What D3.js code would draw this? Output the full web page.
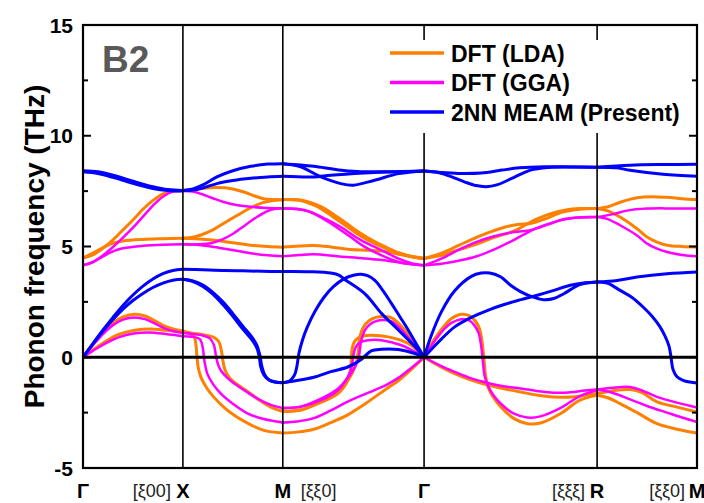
<!DOCTYPE html>
<html>
<head>
<meta charset="utf-8">
<script src="https://cdn.jsdelivr.net/npm/d3@7/dist/d3.min.js"></script>
<style>
  html, body { margin: 0; padding: 0; background: #fff; }
  svg { display: block; font-family: "Liberation Sans", Arial, Helvetica, sans-serif; }
</style>
</head>
<body>
<svg id="chart" width="704" height="503"></svg>
<script>
// High-symmetry points along the B2 (CsCl) Brillouin-zone path, in units of 2π/a
const symLabels = ["Γ", "X", "M", "Γ", "R", "M"];
const symK = [0, 0.5, 1.0, 1.7071, 2.5731, 3.0731];
// Direction labels: [text, index of the point it sits beside, side]
const dirLabels = [["[ξ00]", 1, "before"], ["[ξξ0]", 2, "after"], ["[ξξξ]", 4, "before"], ["[ξξ0]", 5, "before"]];
const yTicks = [-5, 0, 5, 10, 15];
const yMinorTicks = [-2.5, 2.5, 7.5, 12.5];
const seriesNames = ["DFT (LDA)", "DFT (GGA)", "2NN MEAM (Present)"];

// Each band: [segment index, [[fraction along segment, frequency THz], ...]]
const ldaBands = [
  [0, [[0,4.48],[0.1,4.62],[0.2,4.92],[0.3,5.3],[0.4,5.75],[0.5,6.2],[0.6,6.68],[0.7,7.08],[0.8,7.38],[0.9,7.5],[1,7.53]]],
  [0, [[0,4.48],[0.1,4.7],[0.2,4.95],[0.3,5.15],[0.4,5.25],[0.6,5.32],[0.8,5.35],[1,5.37]]],
  [0, [[0,0],[0.1,0.6],[0.2,1.12],[0.3,1.55],[0.4,1.82],[0.52,1.94],[0.62,1.86],[0.73,1.62],[0.83,1.38],[0.93,1.24],[1,1.19]]],
  [0, [[0,0],[0.12,0.4],[0.25,0.78],[0.37,1.05],[0.52,1.22],[0.67,1.27],[0.83,1.22],[1,1.14]]],
  [1, [[0,7.53],[0.15,7.6],[0.34,7.66],[0.5,7.6],[0.61,7.46],[0.72,7.28],[0.81,7.16],[1,7.1]]],
  [1, [[0,5.37],[0.1,5.42],[0.18,5.52],[0.3,5.75],[0.41,6.05],[0.55,6.42],[0.68,6.75],[0.8,6.98],[0.9,7.08],[1,7.12]]],
  [1, [[0,5.37],[0.2,5.33],[0.34,5.27],[0.5,5.17],[0.68,5.06],[0.85,5.0],[1,4.97]]],
  [1, [[0,1.19],[0.08,1.1],[0.2,1.02],[0.31,0.9],[0.36,0.7],[0.385,0.3],[0.4,-0.15],[0.42,-0.55],[0.47,-0.95],[0.55,-1.25],[0.64,-1.52],[0.76,-1.92],[0.88,-2.25],[1,-2.44]]],
  [1, [[0,1.14],[0.06,1.08],[0.11,0.95],[0.13,0.6],[0.14,0.05],[0.155,-0.5],[0.18,-0.9],[0.24,-1.4],[0.31,-1.8],[0.42,-2.3],[0.54,-2.7],[0.68,-3.05],[0.81,-3.3],[1,-3.42]]],
  [2, [[0,7.12],[0.126,7.08],[0.2,6.92],[0.27,6.71],[0.36,6.32],[0.46,5.88],[0.55,5.48],[0.65,5.14],[0.74,4.88],[0.82,4.69],[0.91,4.54],[1,4.46]]],
  [2, [[0,7.12],[0.126,7.1],[0.2,6.98],[0.27,6.8],[0.36,6.45],[0.46,6.0],[0.55,5.6],[0.65,5.22],[0.74,4.94],[0.82,4.72],[0.91,4.55],[1,4.46]]],
  [2, [[0,4.98],[0.12,5.02],[0.22,5.05],[0.34,4.98],[0.46,4.88],[0.6,4.83],[0.72,4.78],[0.85,4.62],[1,4.46]]],
  [2, [[0,-2.44],[0.126,-2.38],[0.22,-2.17],[0.39,-1.64],[0.46,-1.04],[0.478,-0.6],[0.485,-0.1],[0.49,0.35],[0.505,0.68],[0.53,0.86],[0.57,0.96],[0.626,0.99],[0.746,0.92],[0.889,0.62],[1,0]]],
  [2, [[0,-2.44],[0.126,-2.38],[0.22,-2.15],[0.39,-1.55],[0.47,-0.95],[0.51,-0.45],[0.526,-0.1],[0.535,0.3],[0.545,0.9],[0.57,1.35],[0.61,1.65],[0.66,1.8],[0.705,1.84],[0.77,1.78],[0.84,1.4],[0.92,0.75],[1,0]]],
  [2, [[0,-3.42],[0.1,-3.38],[0.22,-3.25],[0.34,-2.95],[0.46,-2.6],[0.56,-2.2],[0.65,-1.8],[0.74,-1.4],[0.82,-1.05],[0.91,-0.55],[1,0]]],
  [3, [[0,4.46],[0.1,4.7],[0.2,5.05],[0.3,5.4],[0.38,5.65],[0.48,5.9],[0.55,6.0],[0.62,6.05],[0.7,6.25],[0.8,6.55],[0.9,6.68],[1,6.71]]],
  [3, [[0,4.46],[0.1,4.6],[0.2,4.85],[0.3,5.1],[0.4,5.4],[0.52,5.7],[0.64,6.2],[0.72,6.45],[0.82,6.65],[0.9,6.71],[1,6.71]]],
  [3, [[0,0],[0.04,0.58],[0.082,1.07],[0.12,1.45],[0.158,1.75],[0.215,1.94],[0.26,1.88],[0.295,1.65],[0.32,1.3],[0.335,0.7],[0.345,0],[0.355,-0.8],[0.37,-1.35],[0.4,-1.8],[0.444,-2.24],[0.52,-2.77],[0.597,-3.0],[0.673,-2.97],[0.787,-2.55],[0.901,-1.94],[1,-1.72]]],
  [3, [[0,0],[0.1,-0.45],[0.177,-0.74],[0.26,-1.0],[0.368,-1.26],[0.45,-1.4],[0.558,-1.57],[0.65,-1.7],[0.749,-1.79],[0.85,-1.8],[0.93,-1.72],[1,-1.64]]],
  [4, [[0,6.71],[0.1,6.78],[0.23,7.0],[0.4,7.2],[0.55,7.25],[0.7,7.22],[0.85,7.16],[1,7.12]]],
  [4, [[0,6.71],[0.1,6.62],[0.23,6.33],[0.4,5.8],[0.5,5.43],[0.6,5.2],[0.7,5.06],[0.85,5.0],[1,4.98]]],
  [4, [[0,-1.64],[0.15,-1.52],[0.33,-1.46],[0.45,-1.6],[0.6,-2.02],[0.8,-2.25],[1,-2.47]]],
  [4, [[0,-1.72],[0.12,-1.85],[0.23,-2.09],[0.4,-2.5],[0.6,-3.0],[0.8,-3.25],[1,-3.42]]]
];

const ggaBands = [
  [0, [[0,4.15],[0.1,4.3],[0.2,4.6],[0.3,4.98],[0.4,5.4],[0.5,5.85],[0.6,6.35],[0.7,6.85],[0.8,7.25],[0.9,7.48],[1,7.52]]],
  [0, [[0,4.15],[0.1,4.3],[0.2,4.55],[0.3,4.78],[0.4,4.92],[0.6,5.03],[0.8,5.08],[1,5.1]]],
  [0, [[0,0],[0.1,0.55],[0.2,1.05],[0.3,1.45],[0.4,1.7],[0.52,1.8],[0.62,1.72],[0.73,1.5],[0.83,1.28],[0.93,1.15],[1,1.1]]],
  [0, [[0,0],[0.12,0.35],[0.25,0.68],[0.37,0.92],[0.52,1.08],[0.67,1.12],[0.83,1.05],[1,0.95]]],
  [1, [[0,7.52],[0.1,7.48],[0.18,7.38],[0.3,7.18],[0.41,7.01],[0.55,6.86],[0.68,6.79],[0.85,6.74],[1,6.73]]],
  [1, [[0,5.1],[0.15,5.1],[0.28,5.15],[0.4,5.33],[0.51,5.6],[0.63,5.98],[0.74,6.33],[0.88,6.66],[1,6.73]]],
  [1, [[0,5.1],[0.2,5.05],[0.35,4.95],[0.51,4.83],[0.7,4.68],[0.85,4.6],[1,4.56]]],
  [1, [[0,1.1],[0.1,1.05],[0.2,0.98],[0.27,0.85],[0.31,0.55],[0.33,0.1],[0.35,-0.3],[0.38,-0.6],[0.45,-0.95],[0.55,-1.3],[0.64,-1.57],[0.76,-1.9],[0.88,-2.15],[1,-2.29]]],
  [1, [[0,0.95],[0.1,0.92],[0.17,0.82],[0.2,0.4],[0.21,0.0],[0.225,-0.4],[0.245,-0.75],[0.3,-1.2],[0.38,-1.64],[0.5,-2.1],[0.64,-2.52],[0.8,-2.78],[1,-2.95]]],
  [2, [[0,6.71],[0.1,6.68],[0.174,6.6],[0.26,6.35],[0.34,6.04],[0.46,5.52],[0.58,4.98],[0.7,4.6],[0.82,4.3],[0.91,4.2],[1,4.15]]],
  [2, [[0,6.71],[0.1,6.7],[0.2,6.55],[0.3,6.25],[0.41,5.88],[0.55,5.3],[0.7,4.83],[0.82,4.45],[0.91,4.25],[1,4.15]]],
  [2, [[0,4.56],[0.12,4.62],[0.22,4.65],[0.4,4.55],[0.58,4.46],[0.75,4.35],[0.88,4.22],[1,4.15]]],
  [2, [[0,-2.29],[0.126,-2.24],[0.27,-1.94],[0.39,-1.49],[0.46,-0.89],[0.485,-0.5],[0.496,-0.1],[0.505,0.25],[0.52,0.5],[0.55,0.68],[0.603,0.77],[0.698,0.77],[0.84,0.54],[1,0]]],
  [2, [[0,-2.29],[0.126,-2.23],[0.22,-2.02],[0.39,-1.42],[0.47,-0.85],[0.51,-0.45],[0.535,-0.1],[0.545,0.3],[0.555,0.75],[0.58,1.2],[0.62,1.5],[0.67,1.65],[0.71,1.68],[0.77,1.62],[0.83,1.3],[0.91,0.72],[1,0]]],
  [2, [[0,-2.95],[0.1,-2.9],[0.22,-2.75],[0.34,-2.4],[0.46,-2.0],[0.56,-1.72],[0.65,-1.48],[0.74,-1.22],[0.82,-0.92],[0.91,-0.48],[1,0]]],
  [3, [[0,4.15],[0.1,4.45],[0.2,4.85],[0.3,5.2],[0.4,5.45],[0.52,5.65],[0.62,5.75],[0.72,6.0],[0.8,6.22],[0.9,6.32],[1,6.33]]],
  [3, [[0,4.15],[0.1,4.22],[0.2,4.36],[0.3,4.55],[0.4,4.85],[0.52,5.3],[0.64,5.8],[0.74,6.08],[0.85,6.27],[1,6.33]]],
  [3, [[0,0],[0.04,0.5],[0.082,0.95],[0.12,1.3],[0.158,1.55],[0.215,1.72],[0.26,1.66],[0.29,1.45],[0.315,1.1],[0.33,0.5],[0.34,-0.2],[0.35,-0.85],[0.37,-1.3],[0.4,-1.7],[0.444,-2.1],[0.52,-2.55],[0.597,-2.72],[0.673,-2.67],[0.787,-2.3],[0.901,-1.75],[1,-1.49]]],
  [3, [[0,0],[0.1,-0.4],[0.177,-0.66],[0.26,-0.92],[0.368,-1.16],[0.45,-1.3],[0.558,-1.41],[0.65,-1.52],[0.749,-1.6],[0.85,-1.58],[0.93,-1.5],[1,-1.46]]],
  [4, [[0,6.33],[0.15,6.45],[0.3,6.62],[0.5,6.71],[0.75,6.72],[1,6.71]]],
  [4, [[0,6.33],[0.1,6.25],[0.23,5.96],[0.4,5.5],[0.5,5.13],[0.6,4.9],[0.7,4.75],[0.85,4.62],[1,4.56]]],
  [4, [[0,-1.46],[0.15,-1.38],[0.33,-1.34],[0.45,-1.5],[0.6,-1.79],[0.8,-2.05],[1,-2.27]]],
  [4, [[0,-1.46],[0.15,-1.6],[0.33,-1.9],[0.5,-2.2],[0.7,-2.5],[0.85,-2.72],[1,-2.92]]]
];

const meamBands = [
  [0, [[0,8.42],[0.15,8.37],[0.3,8.22],[0.5,7.95],[0.7,7.7],[0.85,7.57],[1,7.53]]],
  [0, [[0,8.38],[0.15,8.3],[0.3,8.12],[0.5,7.85],[0.7,7.62],[0.85,7.53],[1,7.51]]],
  [0, [[0,0],[0.1,0.62],[0.2,1.23],[0.3,1.8],[0.4,2.34],[0.5,2.81],[0.6,3.21],[0.7,3.53],[0.8,3.77],[0.9,3.92],[1,3.97]]],
  [0, [[0,0],[0.1,0.6],[0.2,1.18],[0.3,1.7],[0.4,2.17],[0.5,2.56],[0.6,2.88],[0.7,3.15],[0.8,3.35],[0.9,3.48],[1,3.52]]],
  [1, [[0,7.53],[0.1,7.6],[0.2,7.78],[0.34,8.14],[0.5,8.42],[0.68,8.62],[0.85,8.72],[1,8.74]]],
  [1, [[0,7.52],[0.1,7.55],[0.2,7.64],[0.34,7.84],[0.5,7.98],[0.68,8.08],[0.85,8.14],[1,8.17]]],
  [1, [[0,3.97],[0.2,3.95],[0.4,3.92],[0.6,3.9],[0.8,3.88],[1,3.87]]],
  [1, [[0,3.52],[0.1,3.42],[0.2,3.2],[0.3,2.85],[0.4,2.38],[0.5,1.85],[0.6,1.27],[0.68,0.85],[0.74,0.42],[0.765,0],[0.78,-0.45],[0.81,-0.8],[0.86,-1.02],[0.93,-1.12],[1,-1.15]]],
  [1, [[0,3.52],[0.1,3.45],[0.2,3.26],[0.3,2.93],[0.4,2.5],[0.5,1.97],[0.6,1.4],[0.68,0.98],[0.74,0.55],[0.77,0.1],[0.79,-0.4],[0.82,-0.8],[0.87,-1.05],[0.93,-1.13],[1,-1.15]]],
  [2, [[0,8.74],[0.126,8.68],[0.22,8.62],[0.46,8.41],[0.7,8.37],[1,8.41]]],
  [2, [[0,8.74],[0.126,8.6],[0.27,8.14],[0.41,7.84],[0.5,7.77],[0.65,7.99],[0.82,8.29],[1,8.41]]],
  [2, [[0,8.17],[0.22,8.14],[0.34,8.22],[0.58,8.32],[0.8,8.38],[1,8.41]]],
  [2, [[0,3.87],[0.2,3.86],[0.34,3.8],[0.4,3.7],[0.436,3.52],[0.58,2.87],[0.7,1.97],[0.82,1.22],[0.936,0.47],[1,0]]],
  [2, [[0,-1.15],[0.045,-1.08],[0.08,-0.84],[0.098,-0.47],[0.114,0.17],[0.139,0.77],[0.174,1.37],[0.23,2.1],[0.293,2.72],[0.36,3.2],[0.436,3.55],[0.5,3.7],[0.555,3.75],[0.6,3.68],[0.65,3.48],[0.71,3.0],[0.77,2.42],[0.83,1.82],[0.889,1.22],[0.945,0.6],[1,0]]],
  [2, [[0,-1.15],[0.1,-1.05],[0.22,-0.9],[0.34,-0.65],[0.46,-0.44],[0.555,-0.1],[0.626,0.29],[0.698,0.36],[0.817,0.35],[0.936,0.17],[1,0]]],
  [3, [[0,8.41],[0.1,8.34],[0.2,8.3],[0.33,8.32],[0.45,8.45],[0.55,8.55],[0.7,8.6],[0.85,8.59],[1,8.58]]],
  [3, [[0,8.41],[0.07,8.36],[0.14,8.2],[0.233,7.92],[0.3,7.75],[0.36,7.7],[0.42,7.78],[0.52,8.12],[0.615,8.45],[0.72,8.57],[0.85,8.59],[1,8.58]]],
  [3, [[0,0],[0.04,0.95],[0.1,2.05],[0.177,3.0],[0.273,3.65],[0.33,3.8],[0.38,3.8],[0.444,3.62],[0.5,3.25],[0.56,2.95],[0.615,2.76],[0.69,2.6],[0.75,2.65],[0.81,2.88],[0.9,3.28],[1,3.4]]],
  [3, [[0,0],[0.05,0.42],[0.1,0.82],[0.177,1.37],[0.273,1.8],[0.368,2.12],[0.463,2.38],[0.56,2.6],[0.654,2.8],[0.75,3.02],[0.845,3.25],[0.93,3.36],[1,3.4]]],
  [4, [[0,8.58],[0.33,8.67],[0.66,8.7],[1,8.71]]],
  [4, [[0,8.58],[0.2,8.55],[0.33,8.44],[0.66,8.26],[1,8.17]]],
  [4, [[0,3.4],[0.2,3.47],[0.4,3.62],[0.7,3.77],[1,3.85]]],
  [4, [[0,3.4],[0.1,3.35],[0.23,3.02],[0.35,2.7],[0.46,2.27],[0.55,1.85],[0.63,1.37],[0.68,0.95],[0.72,0.5],[0.74,0],[0.76,-0.55],[0.8,-0.88],[0.86,-1.04],[0.93,-1.12],[1,-1.16]]]
];

const colors = { lda: "#ff8000", gga: "#ff00ff", meam: "#0000ff" };

const svg = d3.select("#chart");
const plot = { left: 83, right: 697, top: 25, bottom: 468 };

const x = d3.scaleLinear().domain([symK[0], symK[symK.length - 1]]).range([plot.left, plot.right]);
const y = d3.scaleLinear().domain([-5, 15]).range([plot.bottom, plot.top]);

const kOf = (seg, t) => symK[seg] + t * (symK[seg + 1] - symK[seg]);
const line = d3.line()
  .x(d => x(d.k))
  .y(d => y(d.f))
  .curve(d3.curveCatmullRom.alpha(0.5));

svg.append("defs").append("clipPath").attr("id", "plotClip")
  .append("rect").attr("x", plot.left).attr("y", plot.top)
  .attr("width", plot.right - plot.left).attr("height", plot.bottom - plot.top);

const bandsG = svg.append("g").attr("clip-path", "url(#plotClip)");
function drawBands(bands, color, width) {
  bandsG.append("g").selectAll("path")
    .data(bands)
    .join("path")
    .attr("d", ([seg, pts]) => line(pts.map(([t, f]) => ({ k: kOf(seg, t), f }))))
    .attr("fill", "none")
    .attr("stroke", color)
    .attr("stroke-width", width)
    .attr("stroke-linejoin", "round")
    .attr("stroke-linecap", "round");
}
drawBands(ldaBands, colors.lda, 3);
drawBands(ggaBands, colors.gga, 2.5);
drawBands(meamBands, colors.meam, 3);

// Vertical guides at the interior high-symmetry points
svg.append("g").selectAll("line")
  .data(symK.slice(1, -1))
  .join("line")
  .attr("x1", d => x(d)).attr("x2", d => x(d))
  .attr("y1", plot.top).attr("y2", plot.bottom)
  .attr("stroke", "#000").attr("stroke-width", 1.6);

// Zero-frequency line
svg.append("line")
  .attr("x1", plot.left).attr("x2", plot.right)
  .attr("y1", y(0)).attr("y2", y(0))
  .attr("stroke", "#000").attr("stroke-width", 3);

// Frame
svg.append("rect")
  .attr("x", plot.left).attr("y", plot.top)
  .attr("width", plot.right - plot.left).attr("height", plot.bottom - plot.top)
  .attr("fill", "none").attr("stroke", "#000").attr("stroke-width", 2.2);

// Inward ticks on both vertical axes
const tickG = svg.append("g").attr("stroke", "#000").attr("stroke-width", 2);
yTicks.forEach(v => {
  tickG.append("line").attr("x1", plot.left).attr("x2", plot.left + 8).attr("y1", y(v)).attr("y2", y(v));
  tickG.append("line").attr("x1", plot.right).attr("x2", plot.right - 8).attr("y1", y(v)).attr("y2", y(v));
});
yMinorTicks.forEach(v => {
  tickG.append("line").attr("x1", plot.left).attr("x2", plot.left + 5).attr("y1", y(v)).attr("y2", y(v));
  tickG.append("line").attr("x1", plot.right).attr("x2", plot.right - 5).attr("y1", y(v)).attr("y2", y(v));
});

// Tick labels
svg.append("g").selectAll("text")
  .data(yTicks)
  .join("text")
  .attr("x", plot.left - 10)
  .attr("y", d => y(d))
  .attr("dy", "0.36em")
  .attr("text-anchor", "end")
  .attr("font-size", 21)
  .attr("font-weight", "bold")
  .text(d => d);

// Axis title
svg.append("text")
  .attr("transform", `translate(44, ${(plot.top + plot.bottom) / 2}) rotate(-90)`)
  .attr("text-anchor", "middle")
  .attr("font-size", 28)
  .attr("font-weight", "bold")
  .text("Phonon frequency (THz)");

// High-symmetry point labels
const labelY = 498;
svg.append("g").selectAll("text")
  .data(symLabels)
  .join("text")
  .attr("x", (d, i) => x(symK[i]))
  .attr("y", labelY)
  .attr("text-anchor", "middle")
  .attr("font-size", 20)
  .attr("font-weight", "bold")
  .text(d => d);

// Direction labels beside the points
svg.append("g").selectAll("text")
  .data(dirLabels)
  .join("text")
  .attr("x", d => d[2] === "before" ? x(symK[d[1]]) - 12 : x(symK[d[1]]) + 18)
  .attr("y", labelY - 1)
  .attr("text-anchor", d => d[2] === "before" ? "end" : "start")
  .attr("font-size", 18)
  .attr("fill", "#222")
  .text(d => d[0]);

// Structure tag
svg.append("text")
  .attr("x", 102).attr("y", 72)
  .attr("font-size", 37)
  .attr("font-weight", "bold")
  .attr("fill", "#595959")
  .text("B2");

// Legend
const legend = svg.append("g");
legend.append("rect")
  .attr("x", 382).attr("y", 40).attr("width", 308).attr("height", 93)
  .attr("fill", "#fff");
const legendItems = [[seriesNames[0], colors.lda], [seriesNames[1], colors.gga], [seriesNames[2], colors.meam]];
legendItems.forEach(([name, c], i) => {
  const ly = 53 + i * 29.5;
  legend.append("line")
    .attr("x1", 390).attr("x2", 444).attr("y1", ly).attr("y2", ly)
    .attr("stroke", c).attr("stroke-width", 3.5);
  legend.append("text")
    .attr("x", 451).attr("y", ly + 8.5)
    .attr("font-size", 23)
    .attr("font-weight", "bold")
    .text(name);
});
</script>
</body>
</html>
